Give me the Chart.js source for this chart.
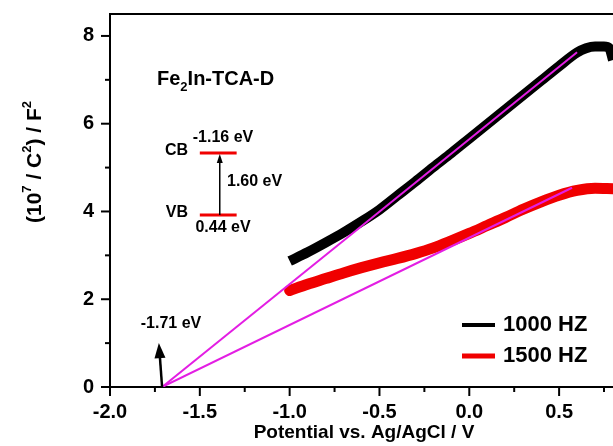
<!DOCTYPE html>
<html>
<head>
<meta charset="utf-8">
<script src="https://cdn.jsdelivr.net/npm/chart.js@4"></script>
<style>
  html, body { margin: 0; padding: 0; background: #fff; overflow: hidden; }
  #wrap { width: 613px; height: 446px; position: relative; }
</style>
</head>
<body>
<div id="wrap"><canvas id="ms"></canvas></div>
<script>
// Mott-Schottky data (potential in V vs Ag/AgCl, 1/C^2 in 10^7 F^-2)
const potential1000 = [-1.0, -0.9, -0.8, -0.7, -0.6, -0.5, -0.4, -0.3, -0.2, -0.1, 0.0, 0.1, 0.2, 0.3, 0.4, 0.5, 0.6, 0.65, 0.7, 0.75, 0.78, 0.8];
const invC2_1000   = [2.87, 3.07, 3.29, 3.52, 3.77, 4.04, 4.36, 4.68, 5.01, 5.33, 5.66, 5.99, 6.32, 6.65, 6.98, 7.31, 7.62, 7.72, 7.76, 7.76, 7.72, 7.45];

const potential1500 = [-1.0, -0.9, -0.8, -0.7, -0.6, -0.5, -0.4, -0.3, -0.2, -0.1, 0.0, 0.1, 0.2, 0.3, 0.4, 0.5, 0.6, 0.7, 0.8];
const invC2_1500   = [2.2, 2.34, 2.47, 2.6, 2.72, 2.83, 2.93, 3.04, 3.17, 3.33, 3.5, 3.68, 3.86, 4.05, 4.22, 4.37, 4.48, 4.53, 4.52];

// linear fits extrapolated to the flat-band potential
const flatBand = -1.71;
const fitEnd1000 = [0.6, 7.63];
const fitEnd1500 = [0.572, 4.54];

// band diagram inset (energies drawn on the potential axis)
const bandX = [-1.5, -1.295];
const cbLevel = 5.33;
const vbLevel = 3.92;

const xTicks = [-2.0, -1.5, -1.0, -0.5, 0.0, 0.5];
const yTicks = [0, 2, 4, 6, 8];
const legendLabels = ['1000 HZ', '1500 HZ'];

const toXY = (xs, ys) => xs.map((x, i) => ({ x: x, y: ys[i] }));

const FONT = '"Liberation Sans", Arial, sans-serif';
const MAGENTA = '#e31ee3';
const RED = '#f00000';

function arrow(ctx, x1, y1, x2, y2, lw, headLen, headW) {
    const ang = Math.atan2(y2 - y1, x2 - x1);
    ctx.lineWidth = lw;
    ctx.beginPath();
    ctx.moveTo(x1, y1);
    ctx.lineTo(x2 - Math.cos(ang) * headLen * 0.8, y2 - Math.sin(ang) * headLen * 0.8);
    ctx.stroke();
    ctx.beginPath();
    ctx.moveTo(x2, y2);
    ctx.lineTo(x2 - Math.cos(ang) * headLen + Math.sin(ang) * headW / 2, y2 - Math.sin(ang) * headLen - Math.cos(ang) * headW / 2);
    ctx.lineTo(x2 - Math.cos(ang) * headLen - Math.sin(ang) * headW / 2, y2 - Math.sin(ang) * headLen + Math.cos(ang) * headW / 2);
    ctx.closePath();
    ctx.fill();
}

const decor = {
    id: 'decor',
    afterDraw(chart) {
        const { ctx, chartArea: a, scales: { x, y } } = chart;
        ctx.save();
        ctx.strokeStyle = '#000';
        ctx.fillStyle = '#000';

        // top frame line (right side is cut off in the original)
        ctx.lineWidth = 2;
        ctx.beginPath();
        ctx.moveTo(a.left - 1, a.top);
        ctx.lineTo(a.right, a.top);
        ctx.stroke();

        // major + minor ticks, outward
        ctx.lineWidth = 2;
        for (let v = -2.0; v <= 0.8; v += 0.25) {
            const px = x.getPixelForValue(v);
            const major = Math.abs(v * 2 - Math.round(v * 2)) < 1e-6;
            ctx.beginPath();
            ctx.moveTo(px, a.bottom);
            ctx.lineTo(px, a.bottom + (major ? 9 : 5));
            ctx.stroke();
        }
        for (let v = 0; v <= 8; v += 1) {
            const py = y.getPixelForValue(v);
            ctx.beginPath();
            ctx.moveTo(a.left, py);
            ctx.lineTo(a.left - (v % 2 === 0 ? 9 : 5), py);
            ctx.stroke();
        }

        // arrows
        const bx = x.getPixelForValue(-1.389);
        arrow(ctx, bx, y.getPixelForValue(vbLevel), bx, y.getPixelForValue(cbLevel) + 1, 1.5, 9, 6);
        arrow(ctx, x.getPixelForValue(flatBand), y.getPixelForValue(0), x.getPixelForValue(-1.728), y.getPixelForValue(1.0), 2.5, 15, 11);

        // texts
        ctx.textBaseline = 'middle';
        ctx.font = 'bold 20px ' + FONT;
        ctx.textAlign = 'left';
        let tx = 157;
        ctx.fillText('Fe', tx, 79); tx += ctx.measureText('Fe').width;
        ctx.font = 'bold 13px ' + FONT;
        ctx.fillText('2', tx, 87); tx += ctx.measureText('2').width;
        ctx.font = 'bold 20px ' + FONT;
        ctx.fillText('In-TCA-D', tx, 79);

        ctx.font = 'bold 16px ' + FONT;
        ctx.textAlign = 'center';
        ctx.fillText('-1.16 eV', 223, 138);
        ctx.fillText('0.44 eV', 223, 228);
        ctx.fillText('-1.71 eV', 171, 324);
        ctx.textAlign = 'left';
        ctx.fillText('1.60 eV', 227, 182);
        ctx.textAlign = 'right';
        ctx.font = 'bold 16px ' + FONT;
        ctx.fillText('CB', 188, 151);
        ctx.fillText('VB', 188, 213);

        // legend
        ctx.lineWidth = 4;
        ctx.beginPath(); ctx.moveTo(462, 325); ctx.lineTo(495, 325); ctx.stroke();
        ctx.strokeStyle = RED;
        ctx.lineWidth = 5;
        ctx.beginPath(); ctx.moveTo(462, 356); ctx.lineTo(495, 356); ctx.stroke();
        ctx.font = 'bold 22px ' + FONT;
        ctx.textAlign = 'left';
        ctx.fillText(legendLabels[0], 503, 325);
        ctx.fillText(legendLabels[1], 503, 356);

        // axis titles
        ctx.font = 'bold 19px ' + FONT;
        ctx.textAlign = 'center';
        ctx.fillText('Potential vs. Ag/AgCl / V', 364, 433);

        ctx.save();
        ctx.translate(35, 162);
        ctx.rotate(-Math.PI / 2);
        const parts = [['(10', 0], ['7', 1], [' / C', 0], ['2', 1], [') / F', 0], ['2', 1]];
        const big = 'bold 21px ' + FONT, small = 'bold 13px ' + FONT;
        let total = 0;
        parts.forEach(p => {
            ctx.font = p[1] ? small : big;
            total += ctx.measureText(p[0]).width;
        });
        let cx = -total / 2;
        ctx.textAlign = 'left';
        parts.forEach(p => {
            ctx.font = p[1] ? small : big;
            ctx.fillText(p[0], cx, p[1] ? -8 : 0);
            cx += ctx.measureText(p[0]).width;
        });
        ctx.restore();

        ctx.restore();
    }
};

new Chart(document.getElementById('ms'), {
    type: 'line',
    data: {
        datasets: [
            { data: [{ x: flatBand, y: 0 }, { x: fitEnd1000[0], y: fitEnd1000[1] }], borderColor: MAGENTA, borderWidth: 2, order: 0, tension: 0 },
            { data: [{ x: flatBand, y: 0 }, { x: fitEnd1500[0], y: fitEnd1500[1] }], borderColor: MAGENTA, borderWidth: 2, order: 0, tension: 0 },
            { data: toXY(bandX, [cbLevel, cbLevel]), borderColor: RED, borderWidth: 3, order: 0, tension: 0 },
            { data: toXY(bandX, [vbLevel, vbLevel]), borderColor: RED, borderWidth: 3, order: 0, tension: 0 },
            { label: legendLabels[0], data: toXY(potential1000, invC2_1000), borderColor: '#000', borderWidth: 10, order: 2, cubicInterpolationMode: 'monotone', borderCapStyle: 'butt' },
            { label: legendLabels[1], data: toXY(potential1500, invC2_1500), borderColor: RED, borderWidth: 11, order: 1, cubicInterpolationMode: 'monotone', borderCapStyle: 'round' }
        ]
    },
    options: {
        responsive: true,
        maintainAspectRatio: false,
        animation: false,
        events: [],
        elements: { point: { radius: 0 } },
        layout: { padding: { top: 14, right: 0, left: 0, bottom: 0 } },
        plugins: { legend: { display: false }, tooltip: { enabled: false } },
        scales: {
            x: {
                type: 'linear',
                min: -2.0,
                max: 0.8,
                afterFit: s => { s.height = 59; s.paddingLeft = 0; s.paddingRight = 0; },
                afterBuildTicks: s => { s.ticks = xTicks.map(v => ({ value: v })); },
                grid: { drawOnChartArea: false, drawTicks: false },
                border: { display: true, color: '#000', width: 2 },
                ticks: {
                    color: '#000',
                    padding: 13,
                    maxRotation: 0,
                    autoSkip: false,
                    font: { family: FONT, size: 20, weight: 'bold' },
                    callback: v => v.toFixed(1)
                }
            },
            y: {
                type: 'linear',
                min: 0,
                max: 8.5,
                afterFit: s => { s.width = 110; s.paddingTop = 0; s.paddingBottom = 0; },
                afterBuildTicks: s => { s.ticks = yTicks.map(v => ({ value: v })); },
                grid: { drawOnChartArea: false, drawTicks: false },
                border: { display: true, color: '#000', width: 2 },
                ticks: {
                    color: '#000',
                    padding: 16,
                    font: { family: FONT, size: 20, weight: 'bold' },
                    callback: v => String(v)
                }
            }
        }
    },
    plugins: [decor]
});
</script>
</body>
</html>
